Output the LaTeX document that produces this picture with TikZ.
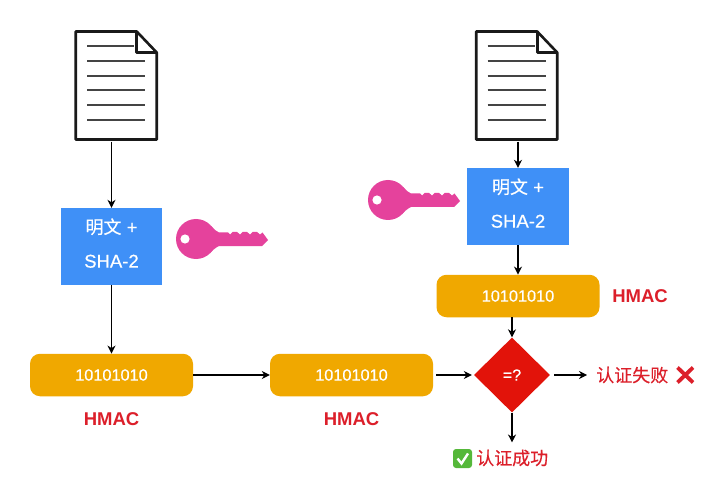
\documentclass[tikz,border=0pt]{standalone}
\usepackage{fontspec}
\setmainfont{Liberation Sans}
\newfontfamily\cjk[FakeBold=0.35]{Noto Sans CJK SC}
\newfontfamily\medium[FakeBold=0.45]{Liberation Sans}
\usetikzlibrary{arrows.meta,shapes.geometric}
\definecolor{boxblue}{HTML}{3F90F7}
\definecolor{boxorange}{HTML}{F0A800}
\definecolor{diared}{HTML}{E2130A}
\definecolor{keypink}{HTML}{E5429C}
\definecolor{labelred}{HTML}{DC1F2A}
\definecolor{checkgreen}{HTML}{55B83A}
\definecolor{docline}{HTML}{444444}
\tikzset{
  x=1pt,y=-1pt,
  conn/.style={draw=black,line width=1.2pt,-{Stealth[length=8pt,width=8pt]}},
  plainbox/.style={fill=boxblue,text=white,minimum width=101.5pt,minimum height=77pt,inner sep=0pt,
    align=center,font=\medium\fontsize{18.5}{34}\selectfont},
  bitsbox/.style={fill=boxorange,text=white,rounded corners=10pt,minimum width=163pt,minimum height=42.5pt,
    inner sep=0pt,font=\medium\fontsize{16.3}{18}\selectfont},
  cmpbox/.style={diamond,aspect=1,fill=diared,text=white,minimum width=76pt,minimum height=75pt,inner sep=0pt,
    font=\medium\fontsize{16}{18}\selectfont},
  hmaclabel/.style={text=labelred,inner sep=0pt,font=\bfseries\fontsize{18.5}{20}\selectfont},
  resultlabel/.style={text=labelred,inner sep=0pt,font=\cjk\fontsize{18}{20}\selectfont},
  docicon/.pic={
    \node[minimum width=81pt,minimum height=108pt,inner sep=0pt] (-body) at (0,0) {};
    \fill[white] (-40.5,-54) -- (20.5,-54) -- (40.5,-33) -- (40.5,54) -- (-40.5,54) -- cycle;
    \draw[docline,line width=2pt] (-29,-39) -- (18,-39);
    \foreach \yy in {-24,-9.5,5,20,35}{\draw[docline,line width=2pt] (-29,\yy) -- (29,\yy);}
    \fill[white] (20.5,-54) -- (40.5,-33) -- (20.5,-33) -- cycle;
    \draw[black!90,line width=2.6pt,line join=round] (-40.5,-54) -- (20.5,-54) -- (40.5,-33) -- (40.5,54) -- (-40.5,54) -- cycle;
    \draw[black!90,line width=2.6pt,line join=round] (20.5,-54) -- (20.5,-33) -- (40.5,-33);
  },
  keyicon/.pic={
    \fill[keypink] (0,0) circle[radius=20];
    \fill[keypink] (15,-13) -- (19,-9) -- (23,-6.5) -- (32,-6.5) -- (34,-4.5) -- (36.5,-7) -- (41,-7)
      -- (44,-4.5) -- (46.5,-7) -- (51,-7) -- (54,-4.5) -- (56.5,-7) -- (61,-7) -- (64,-4.5) -- (66.5,-6.5)
      -- (72,1) -- (66,7) -- (23,7) -- (21,8) -- (17,11) -- (14,14) -- cycle;
    \fill[white] (-11,0) circle[radius=4.6];
  },
}
\begin{document}
\begin{tikzpicture}
\useasboundingbox (0,0) rectangle (714,494);
\fill[white] (0,0) rectangle (714,494);

\pic (doc1) at (116.2,85.5) {docicon};
\pic (doc2) at (516.7,85.5) {docicon};

\node[plainbox] (plain1) at (111.5,246.5) {{\cjk\fontsize{18}{34}\selectfont 明文} +\\SHA-2\rule[-7pt]{0pt}{7pt}};
\node[plainbox] (plain2) at (518,206.5) {{\cjk\fontsize{18}{34}\selectfont 明文} +\\SHA-2\rule[-7pt]{0pt}{7pt}};

\pic (key1) at (196,239) {keyicon};
\pic (key2) at (388,200) {keyicon};

\node[bitsbox] (bits1) at (111.5,375) {10101010};
\node[bitsbox] (bits2) at (351.5,375) {10101010};
\node[bitsbox] (bits3) at (518,296) {10101010};

\node[cmpbox] (cmp) at (512,375) {=?};

\node[hmaclabel] (hmac1) at (111.5,419) {HMAC};
\node[hmaclabel] (hmac2) at (351.5,419) {HMAC};
\node[hmaclabel] (hmac3) at (640,296) {HMAC};

\node[resultlabel,anchor=west] (fail) at (596,375) {认证失败};
\node[resultlabel,anchor=west] (ok) at (476,458) {认证成功};

% cross next to the failure text
\draw[labelred,line width=3.8pt] (677.5,367.5) -- (693,382.5) (693,367.5) -- (677.5,382.5);
% green check next to the success text
\fill[checkgreen,rounded corners=3pt] (453,449) rectangle (472,468);
\draw[white,line width=2.4pt] (457.5,458.5) -- (461.5,463.5) -- (468,453.5);

\draw[conn,shorten <=2pt] (doc1-body.south -| plain1.north) -- (plain1.north);
\draw[conn,shorten <=2pt] (doc2-body.south -| plain2.north) -- (plain2.north);
\draw[conn] (plain1.south) -- (bits1.north);
\draw[conn] (plain2.south) -- (bits3.north);
\draw[conn] (bits3.south -| cmp.north) -- (cmp.north);
\draw[conn] (bits1.east) -- (bits2.west);
\draw[conn,shorten <=3pt,shorten >=2pt] (bits2.east) -- (cmp.west);
\draw[conn,shorten <=4pt,shorten >=9pt] (cmp.east) -- (fail.west);
\draw[conn,shorten >=7pt] (cmp.south) -- (ok.north -| cmp.south);
\end{tikzpicture}
\end{document}
